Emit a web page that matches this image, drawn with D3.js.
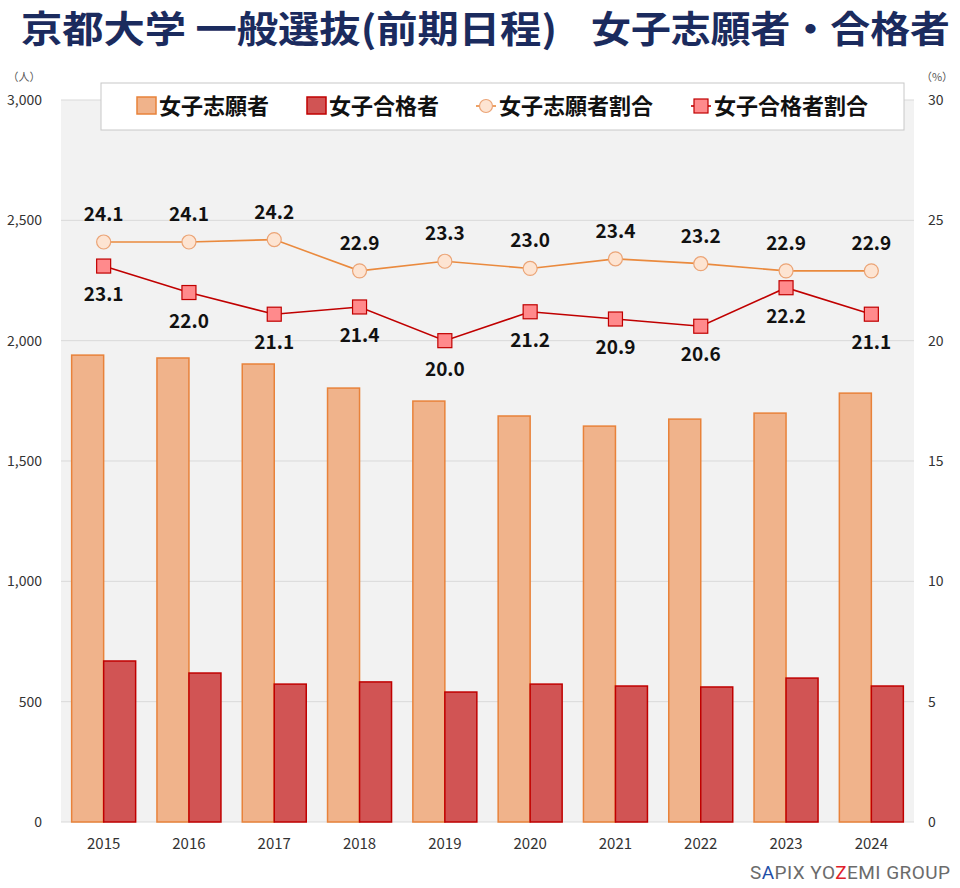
<!DOCTYPE html>
<html><head><meta charset="utf-8">
<script src="https://cdn.jsdelivr.net/npm/d3@7/dist/d3.min.js"></script>
<style>body{margin:0;background:#fff}svg{display:block}</style>
</head><body>
<svg id="c" width="960" height="888"></svg>
<script>
const years = ["2015","2016","2017","2018","2019","2020","2021","2022","2023","2024"];
const applicants = [1940,1928,1903,1803,1749,1687,1645,1674,1699,1782];
const passers = [669,619,573,582,540,573,565,561,598,565];
const applicantRatio = [24.1,24.1,24.2,22.9,23.3,23.0,23.4,23.2,22.9,22.9];
const passerRatio = [23.1,22.0,21.1,21.4,20.0,21.2,20.9,20.6,22.2,21.1];
const leftTicks = [0,500,1000,1500,2000,2500,3000];
const rightTicks = [0,5,10,15,20,25,30];

const svg = d3.select("#c");
const font = "'Noto Sans CJK JP','Noto Sans',sans-serif";
const L=61, R=914, T=100, B=822;

const x = d3.scaleBand().domain(years).range([L,R]).padding(0);
const xs = d3.scaleBand().domain(["a","p"]).range([0,x.bandwidth()]).paddingInner(0).paddingOuter(0.333);
const y = d3.scaleLinear().domain([0,3000]).range([B,T]);
const y2 = d3.scaleLinear().domain([0,30]).range([B,T]);

// title (two parts)
svg.append("text").attr("x",21).attr("y",43).attr("font-family",font).attr("font-weight",700)
  .attr("font-size",37).attr("fill","#1b2b5e").attr("textLength",536).attr("lengthAdjust","spacingAndGlyphs")
  .text("京都大学 一般選抜(前期日程)");
svg.append("text").attr("x",591).attr("y",43).attr("font-family",font).attr("font-weight",700)
  .attr("font-size",37).attr("fill","#1b2b5e").attr("textLength",359).attr("lengthAdjust","spacingAndGlyphs")
  .text("女子志願者・合格者");

// plot bg
svg.append("rect").attr("x",L).attr("y",T).attr("width",R-L).attr("height",B-T).attr("fill","#f2f2f2");
// grid
svg.append("g").selectAll("line").data(leftTicks).join("line")
  .attr("x1",L).attr("x2",R).attr("y1",d=>y(d)).attr("y2",d=>y(d))
  .attr("stroke","#d9d9d9").attr("stroke-width",1);

// left axis
const ga = svg.append("g").attr("transform",`translate(${L},0)`)
  .call(d3.axisLeft(y).tickValues(leftTicks).tickFormat(d3.format(",")).tickSize(0).tickPadding(19));
ga.select(".domain").remove();
ga.selectAll("text").attr("font-family",font).attr("font-size",14).attr("fill","#333");
// right axis
const gb = svg.append("g").attr("transform",`translate(${R},0)`)
  .call(d3.axisRight(y2).tickValues(rightTicks).tickSize(0).tickPadding(14));
gb.select(".domain").remove();
gb.selectAll("text").attr("font-family",font).attr("font-size",14).attr("fill","#333");
// bottom axis
const gx = svg.append("g").attr("transform",`translate(0,${B})`)
  .call(d3.axisBottom(x).tickSize(0).tickPadding(16));
gx.select(".domain").remove();
gx.selectAll("text").attr("font-family",font).attr("font-size",15).attr("fill","#333");

svg.append("text").attr("x",24).attr("y",81).attr("text-anchor","middle").attr("font-family",font)
  .attr("font-size",11).attr("fill","#555").text("（人）");
svg.append("text").attr("x",937).attr("y",81).attr("text-anchor","middle").attr("font-family",font)
  .attr("font-size",11).attr("fill","#555").text("（%）");

// bars
const g = svg.append("g");
g.selectAll("rect.a").data(years).join("rect").attr("class","a")
  .attr("x",(d)=>x(d)+xs("a")).attr("width",xs.bandwidth())
  .attr("y",(d,i)=>y(applicants[i])).attr("height",(d,i)=>y(0)-y(applicants[i]))
  .attr("fill","#f0b38b").attr("stroke","#e8823a").attr("stroke-width",1.5);
g.selectAll("rect.p").data(years).join("rect").attr("class","p")
  .attr("x",(d)=>x(d)+xs("p")).attr("width",xs.bandwidth())
  .attr("y",(d,i)=>y(passers[i])).attr("height",(d,i)=>y(0)-y(passers[i]))
  .attr("fill","#d15454").attr("stroke","#c00000").attr("stroke-width",1.5);

const cx = d=>x(d)+x.bandwidth()/2;
// lines
svg.append("path").datum(years).attr("fill","none").attr("stroke","#ea8a3e").attr("stroke-width",1.6)
  .attr("d",d3.line().x(cx).y((d,i)=>y2(applicantRatio[i])));
svg.append("path").datum(years).attr("fill","none").attr("stroke","#c00000").attr("stroke-width",1.6)
  .attr("d",d3.line().x(cx).y((d,i)=>y2(passerRatio[i])));
svg.selectAll("circle.m").data(years).join("circle").attr("class","m")
  .attr("cx",cx).attr("cy",(d,i)=>y2(applicantRatio[i])).attr("r",7)
  .attr("fill","#fde4d2").attr("stroke","#eba476").attr("stroke-width",1.2);
svg.selectAll("rect.m").data(years).join("rect").attr("class","m")
  .attr("x",d=>cx(d)-7).attr("y",(d,i)=>y2(passerRatio[i])-7).attr("width",14).attr("height",14)
  .attr("fill","#ff8a8c").attr("stroke","#c00000").attr("stroke-width",1.2);

// labels
svg.selectAll("text.la").data(years).join("text").attr("class","la")
  .attr("x",cx).attr("y",(d,i)=>y2(applicantRatio[i])-21).attr("text-anchor","middle")
  .attr("font-family",font).attr("font-weight",700).attr("font-size",19).attr("fill","#111")
  .text((d,i)=>applicantRatio[i].toFixed(1));
svg.selectAll("text.lp").data(years).join("text").attr("class","lp")
  .attr("x",cx).attr("y",(d,i)=>y2(passerRatio[i])+35).attr("text-anchor","middle")
  .attr("font-family",font).attr("font-weight",700).attr("font-size",19).attr("fill","#111")
  .text((d,i)=>passerRatio[i].toFixed(1));

// legend
svg.append("rect").attr("x",101).attr("y",83).attr("width",803).attr("height",47)
  .attr("fill","#fff").attr("stroke","#c8c8c8").attr("stroke-width",1);
const ly = 106;
const lg = svg.append("g").attr("font-family",font).attr("font-weight",700).attr("font-size",22).attr("fill","#111");
lg.append("rect").attr("x",137).attr("y",ly-9).attr("width",19).attr("height",17).attr("fill","#f0b38b").attr("stroke","#e8823a").attr("stroke-width",1.5);
lg.append("text").attr("x",159).attr("y",ly+8).text("女子志願者");
lg.append("rect").attr("x",307).attr("y",ly-9).attr("width",19).attr("height",17).attr("fill","#d15454").attr("stroke","#c00000").attr("stroke-width",1.5);
lg.append("text").attr("x",329).attr("y",ly+8).text("女子合格者");
lg.append("line").attr("x1",476).attr("x2",496).attr("y1",ly).attr("y2",ly).attr("stroke","#ea8a3e").attr("stroke-width",1.6);
lg.append("circle").attr("cx",486).attr("cy",ly).attr("r",6.5).attr("fill","#fde4d2").attr("stroke","#eba476").attr("stroke-width",1.2);
lg.append("text").attr("x",499).attr("y",ly+8).text("女子志願者割合");
lg.append("line").attr("x1",691).attr("x2",711).attr("y1",ly).attr("y2",ly).attr("stroke","#c00000").attr("stroke-width",1.6);
lg.append("rect").attr("x",694).attr("y",ly-7).attr("width",14).attr("height",14).attr("fill","#ff8a8c").attr("stroke","#c00000").attr("stroke-width",1.2);
lg.append("text").attr("x",714).attr("y",ly+8).text("女子合格者割合");

// footer
const ft = svg.append("text").attr("x",750).attr("y",879)
  .attr("font-family","Roboto,'Noto Sans',sans-serif").attr("font-size",19).attr("fill","#6b6b6b")
  .attr("textLength",200).attr("lengthAdjust","spacing");
[["S","#6b6b6b"],["A","#1f4fa8"],["PIX YO","#6b6b6b"],["Z","#e0202a"],["EMI GROUP","#6b6b6b"]]
  .forEach(([t,c])=>ft.append("tspan").attr("fill",c).text(t));
</script>
</body></html>
